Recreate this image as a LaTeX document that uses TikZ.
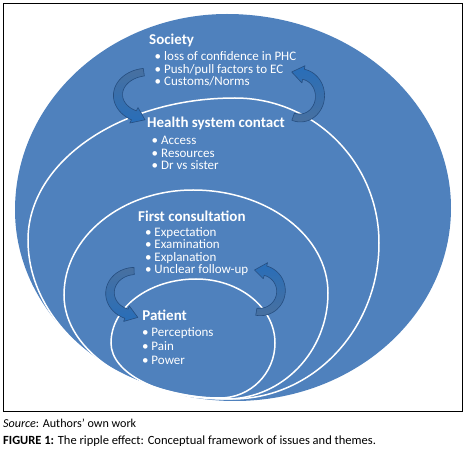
\documentclass[tikz,border=0pt]{standalone}
\usepackage{fontspec}
\setmainfont{Carlito}
\usetikzlibrary{calc}
\definecolor{ringblue}{RGB}{79,129,189}
\definecolor{arrowfill}{RGB}{40,110,185}
\definecolor{arrowtail}{RGB}{72,112,160}
\definecolor{arrowdark}{RGB}{38,78,128}
\tikzset{
  egg/.style n args={8}{insert path={
    (#1,#2) .. controls ({#1+0.5523*(#3-#1)},#2) and (#3,{#4-0.5523*(#4-#2)}) .. (#3,#4)
    .. controls (#3,{#4+0.5523*(#6-#4)}) and ({#5+0.5523*(#3-#5)},#6) .. (#5,#6)
    .. controls ({#5-0.5523*(#5-#7)},#6) and (#7,{#8+0.5523*(#6-#8)}) .. (#7,#8)
    .. controls (#7,{#8-0.5523*(#8-#2)}) and ({#1-0.5523*(#1-#7)},#2) .. (#1,#2) -- cycle}},
  curvarrow/.style n args={9}{insert path={
    plot[domain=#5:#6, samples=40, variable=\t, smooth]
      ({#1+(#3+#7*(1+0.35*(\t-#5)/(#6-#5)))*cos(\t)},{#2+(#4+#7*(1+0.35*(\t-#5)/(#6-#5)))*sin(\t)})
    -- ({#1+(#3+2.3*#7)*cos(#6)},{#2+(#4+2.3*#7)*sin(#6)})
    -- (#8,#9)
    -- ({#1+(#3-2.3*#7)*cos(#6)},{#2+(#4-2.3*#7)*sin(#6)})
    -- plot[domain=#6:#5, samples=40, variable=\t, smooth]
      ({#1+(#3-#7*(1+0.35*(\t-#5)/(#6-#5)))*cos(\t)},{#2+(#4-#7*(1+0.35*(\t-#5)/(#6-#5)))*sin(\t)})
    -- cycle}},
  ring/.style={draw=white, line width=1.5pt},
  cyc/.style={draw=arrowdark, line width=0.6pt, line join=round},
  ttl/.style={font=\bfseries\fontsize{15}{18}\selectfont, text=white, anchor=base west, inner sep=0pt},
  itm/.style={font=\fontsize{13}{15}\selectfont, text=white, anchor=base west, inner sep=0pt},
  captxt/.style={anchor=base west, inner sep=0pt, text=black}
}
\newcommand\itembul{\llap{\textbullet\hspace{3pt}}}
\begin{document}
\begin{tikzpicture}[x=1pt, y=-1pt]
\useasboundingbox (0,0) rectangle (467,457);
% frame
\draw[black, line width=0.9pt] (3,3) rectangle (462.5,411);
% outer blue shape
\fill[ringblue, egg={227}{14}{451}{208}{235}{401}{15}{210}];
% rings
\path[ring, egg={235}{98}{379}{243}{232}{399}{28}{240}];
\path[ring, egg={193}{190}{328}{293}{226}{399}{64}{295}];
\path[ring, egg={196}{279}{275}{343}{220}{398}{111}{343}];
% curved arrows
\path[cyc, top color=arrowtail, bottom color=arrowfill, curvarrow={148}{95}{30}{23}{262}{118}{3.8}{145}{119.8}];
\path[cyc, top color=arrowfill, bottom color=arrowtail, curvarrow={300}{96}{20}{22}{110}{-80}{3.8}{291.7}{72}];
\path[cyc, top color=arrowtail, bottom color=arrowfill, curvarrow={135}{293}{25}{22}{268}{110}{3.6}{137.8}{317.4}];
\path[cyc, top color=arrowfill, bottom color=arrowtail, curvarrow={260}{291}{21}{21}{100}{-75}{3.6}{254.5}{270}];
% Society
\node[ttl] (soc) at (149,45) {Society};
\node[itm] (soc1) at (164,61) {\itembul loss of confidence in PHC};
\node[itm] (soc2) at (164,73.5) {\itembul Push/pull factors to EC};
\node[itm] (soc3) at (164,86) {\itembul Customs/Norms};
% Health system contact
\node[ttl] (hsc) at (147,128) {Health system contact};
\node[itm] (hsc1) at (161,145) {\itembul Access};
\node[itm] (hsc2) at (161,157.5) {\itembul Resources};
\node[itm] (hsc3) at (161,170) {\itembul Dr vs sister};
% First consultation
\node[ttl] (fc) at (138,221.7) {First consultation};
\node[itm] (fc1) at (154.3,236.7) {\itembul Expectation};
\node[itm] (fc2) at (154.3,249) {\itembul Examination};
\node[itm] (fc3) at (154.3,261.5) {\itembul Explanation};
\node[itm] (fc4) at (154.3,274) {\itembul Unclear follow-up};
% Patient
\node[ttl] (pat) at (142.3,320.7) {Patient};
\node[itm] (pat1) at (151.3,337) {\itembul Perceptions};
\node[itm] (pat2) at (151.3,351) {\itembul Pain};
\node[itm] (pat3) at (151.3,365) {\itembul Power};
% captions
\node[captxt, font=\fontsize{12.1}{14}\selectfont] (src) at (3,427.7) {\textit{Source}: Authors’ own work};
\node[captxt, font=\fontsize{12.5}{15}\selectfont] (fig) at (3,445) {\textbf{FIGURE 1:} The ripple effect: Conceptual framework of issues and themes.};
\end{tikzpicture}
\end{document}
